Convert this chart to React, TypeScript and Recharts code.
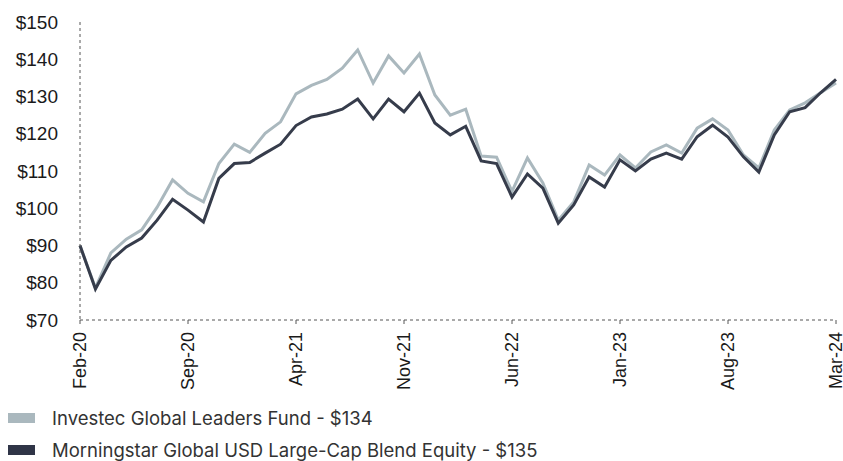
import React from 'react';
import { LineChart, Line, XAxis, YAxis } from 'recharts';

const months = [
  'Feb-20', 'Mar-20', 'Apr-20', 'May-20', 'Jun-20', 'Jul-20', 'Aug-20', 'Sep-20', 'Oct-20', 'Nov-20', 'Dec-20',
  'Jan-21', 'Feb-21', 'Mar-21', 'Apr-21', 'May-21', 'Jun-21', 'Jul-21', 'Aug-21', 'Sep-21', 'Oct-21', 'Nov-21', 'Dec-21',
  'Jan-22', 'Feb-22', 'Mar-22', 'Apr-22', 'May-22', 'Jun-22', 'Jul-22', 'Aug-22', 'Sep-22', 'Oct-22', 'Nov-22', 'Dec-22',
  'Jan-23', 'Feb-23', 'Mar-23', 'Apr-23', 'May-23', 'Jun-23', 'Jul-23', 'Aug-23', 'Sep-23', 'Oct-23', 'Nov-23', 'Dec-23',
  'Jan-24', 'Feb-24', 'Mar-24',
];

const investec = [
  90, 78.6, 88, 91.7, 94.2, 100.3, 107.6, 104, 101.7, 112, 117.2,
  115, 120.1, 123.2, 130.7, 133, 134.6, 137.6, 142.5, 133.6, 140.9, 136.3, 141.4,
  130.4, 125, 126.6, 114, 113.7, 104.5, 113.5, 106.8, 96.8, 101.7, 111.6, 108.9,
  114.3, 110.8, 115.1, 117, 114.8, 121.5, 124, 121, 114.3, 110.8, 121, 126.4,
  128.3, 131, 133.6,
];

const morningstar = [
  90, 78.3, 86, 89.6, 92, 96.8, 102.4, 99.5, 96.3, 108, 112,
  112.3, 114.8, 117.2, 122.2, 124.5, 125.3, 126.6, 129.3, 124, 129.3, 125.9, 130.9,
  122.9, 119.7, 122, 112.7, 112, 103, 109.2, 105.4, 96, 100.9, 108.4, 105.7,
  113, 110, 113.2, 114.8, 113.2, 119.2, 122.3, 119.1, 113.8, 109.7, 119.7, 125.9,
  127, 131, 134.6,
];

const yTicks = [70, 80, 90, 100, 110, 120, 130, 140, 150];

const legendItems = [
  { name: 'Investec Global Leaders Fund - $134', color: '#aab8be' },
  { name: 'Morningstar Global USD Large-Cap Blend Equity - $135', color: '#2f3547' },
];

const data = months.map((m, i) => ({ month: m, investec: investec[i], morningstar: morningstar[i] }));

const MonthTick = (props: any) => {
  const { x, y, payload } = props;
  return (
    <text
      x={x}
      y={y + 6}
      transform={`rotate(-90, ${x}, ${y + 6})`}
      textAnchor="end"
      dy="0.36em"
      fontSize={18}
      fontFamily="Liberation Sans, Arial, sans-serif"
      fill="#1a1a1a"
    >
      {payload.value}
    </text>
  );
};

export default function App() {
  return (
    <div style={{ position: 'absolute', left: 0, top: 0, width: 843, height: 461, background: '#fff', overflow: 'hidden' }}>
      <LineChart width={843} height={400} data={data} margin={{ top: 22, right: 7, left: 0, bottom: 0 }}>
        <XAxis
          dataKey="month"
          interval={6}
          height={80}
          tick={<MonthTick />}
          tickSize={4}
          tickLine={{ stroke: '#555' }}
          axisLine={{ stroke: '#555', strokeDasharray: '3 3' }}
        />
        <YAxis
          width={80}
          domain={[70, 150]}
          ticks={yTicks}
          tickFormatter={(v: number) => `$${v}`}
          tickLine={false}
          tickMargin={16}
          axisLine={{ stroke: '#555', strokeDasharray: '3 3' }}
          tick={{ fontSize: 19, fill: '#1a1a1a', fontFamily: 'Liberation Sans, Arial, sans-serif' }}
        />
        <Line
          dataKey="investec"
          stroke="#aab8be"
          strokeWidth={3}
          dot={false}
          isAnimationActive={false}
        />
        <Line
          dataKey="morningstar"
          stroke="#363c4b"
          strokeWidth={3}
          dot={false}
          isAnimationActive={false}
        />
      </LineChart>
      {legendItems.map((item, i) => (
        <div
          key={item.name}
          style={{
            position: 'absolute',
            left: 8,
            top: 405 + i * 32,
            height: 26,
            display: 'flex',
            alignItems: 'center',
            fontFamily: 'Inter, sans-serif',
            fontSize: 18.5,
            lineHeight: '22px',
            color: '#333',
            whiteSpace: 'pre',
          }}
        >
          <span style={{ display: 'inline-block', width: 27, height: 10, background: item.color, marginRight: 17 }} />
          {item.name}
        </div>
      ))}
    </div>
  );
}
